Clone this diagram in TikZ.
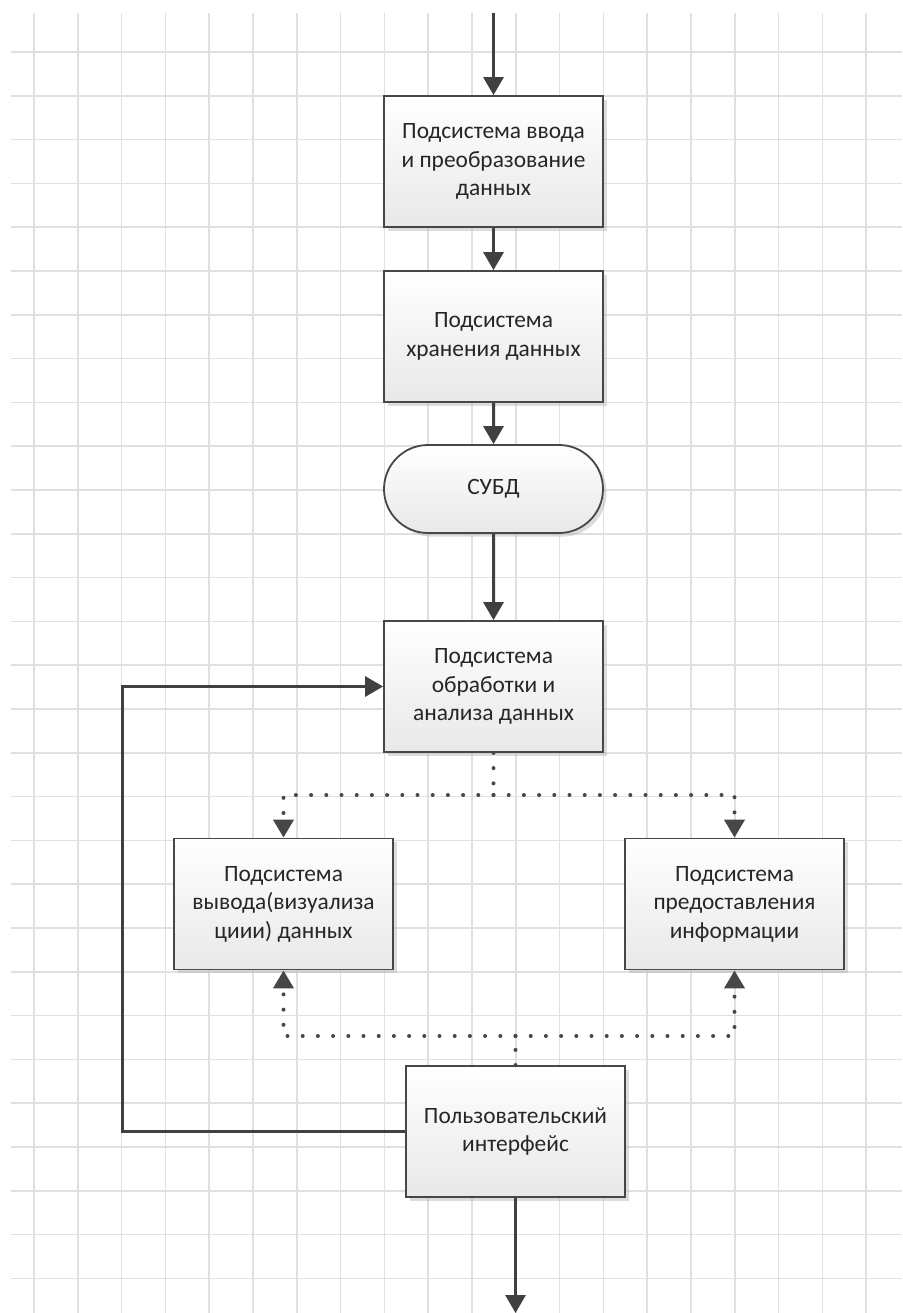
\documentclass[tikz,border=0pt]{standalone}
\usepackage{fontspec}
\setmainfont{Carlito}
\usetikzlibrary{arrows.meta,shapes.misc,shadows}

\tikzset{
  gridline/.style={line width=0.75pt,color=black!12},
  block/.style={draw=black!72,line width=0.9pt,top color=white,bottom color=black!9,
    minimum width=109.5pt,minimum height=65.5pt,inner sep=0pt,align=center,
    text=black!85,font=\fontsize{11.7}{14.3}\selectfont,
    drop shadow={shadow xshift=1.8pt,shadow yshift=-1.8pt,fill=black!30,opacity=0.45}},
  term/.style={block,rounded rectangle,minimum height=44pt},
  flow/.style={line width=1.5pt,color=black!75,-{Triangle[width=10pt,length=9pt]}},
  dots/.style={line width=2pt,color=black!72,line cap=round,dash pattern=on 0pt off 7.6pt},
  dotflow/.style={dots,-{Triangle[width=10pt,length=9pt]}}
}

\begin{document}
\begin{tikzpicture}[x=0.5pt,y=-0.5pt]
  \useasboundingbox (0,0) rectangle (902,1313);
  % grid
  \foreach \i in {0,...,19}
    \draw[gridline] ({34+43.8*\i},13) -- ({34+43.8*\i},1313);
  \foreach \j in {0,...,28}
    \draw[gridline] (11,{52+43.8*\j}) -- (902,{52+43.8*\j});

  % blocks
  \node[block] (input) at (493.5,161.5) {Подсистема ввода\\и преобразование\\данных};
  \node[block] (store) at (493.5,336.5) {Подсистема\\хранения данных};
  \node[term] (dbms) at (493.5,489) {СУБД};
  \node[block] (proc) at (493.5,686.5) {Подсистема\\обработки и\\анализа данных};
  \node[block] (view) at (283.5,904) {Подсистема\\вывода(визуализа\\циии) данных};
  \node[block] (info) at (734.5,904) {Подсистема\\предоставления\\информации};
  \node[block] (ui) at (515.5,1131.5) {Пользовательский\\интерфейс};

  \coordinate (entry) at (493.5,13);
  \coordinate (exit) at (515.5,1313);
  \coordinate (back) at (122,1131.5);
  \coordinate (split) at (493.5,795);
  \coordinate (merge) at (515.5,1036);

  % main flow
  \draw[flow] (entry) -- (input);
  \draw[flow] (input) -- (store);
  \draw[flow] (store) -- (dbms);
  \draw[flow] (dbms) -- (proc);
  \draw[flow] (ui) -- (exit);
  \draw[flow] (ui.west) -- (back) |- (proc.west);

  % dotted links
  \draw[dots] (proc.south) -- (split);
  \draw[dotflow] (split) -| (view.north);
  \draw[dotflow] (split) -| (info.north);
  \draw[dots] (ui.north) -- (merge);
  \draw[dotflow] (merge) -| (view.south);
  \draw[dotflow] (merge) -| (info.south);
\end{tikzpicture}
\end{document}
